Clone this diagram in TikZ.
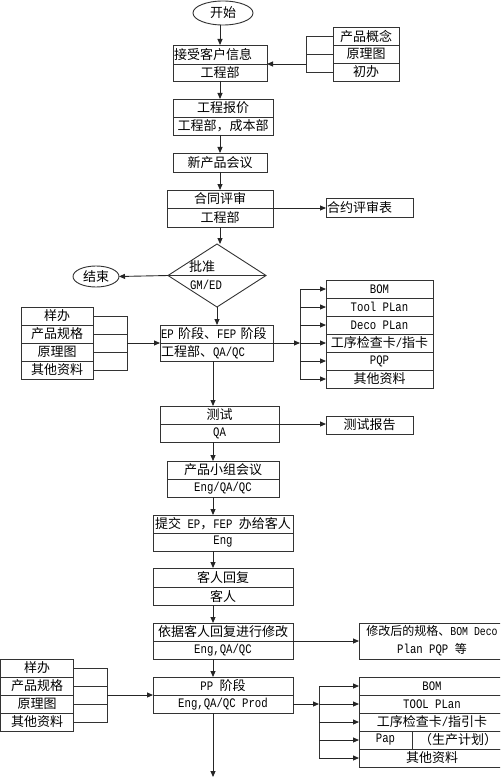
\documentclass[tikz,border=0pt]{standalone}
\usepackage{fontspec}
\setmainfont{Noto Sans CJK SC}
\newfontfamily\monof[FakeStretch=0.82]{Liberation Mono}
\newcommand{\mtx}[1]{{\monof\fontsize{13}{15}\selectfont #1}}
\newcommand{\mts}[1]{{\monof\fontsize{12}{15}\selectfont #1}}
\usetikzlibrary{shapes.geometric,arrows.meta}
\begin{document}
\begin{tikzpicture}[x=1pt,y=-1pt,
  cell/.style={draw=black!80, line width=0.9pt, inner sep=0pt, outer sep=0pt, font=\fontsize{13}{15}\selectfont, align=center},
  lcell/.style={cell, align=left, inner xsep=1pt},
  arr/.style={draw=black!85, line width=0.9pt, -{Triangle[length=6pt,width=5pt]}},
  ln/.style={draw=black!80, line width=0.8pt},
  lbl/.style={inner sep=0pt, font=\fontsize{13}{15}\selectfont}]
\useasboundingbox (0,0) rectangle (500,778);
\clip (0,0) rectangle (500,778);
\fill[white] (0,0) rectangle (500,778);

% start
\node[cell, ellipse, minimum width=60, minimum height=24] (start) at (223,13) {开始};
\node[lcell, minimum width=94, minimum height=19, text width=92] (b1t) at (220,54.5) {接受客户信息};
\node[cell, minimum width=94, minimum height=17] (b1b) at (220,72.5) {工程部};
\draw[arr] (b1t.north |- start.south) -- (b1t.north);

% right list 1
\node[cell, minimum width=66, minimum height=18] (r1a) at (366,36) {产品概念};
\node[cell, minimum width=66, minimum height=18] (r1b) at (366,54) {原理图};
\node[cell, minimum width=66, minimum height=18] (r1c) at (366,72) {初办};
\coordinate (k1) at (306,54);
\draw[ln] (r1a.west) -- (r1a.west -| k1) -- (r1c.west -| k1) -- (r1c.west);
\draw[ln] (r1b.west) -- (k1);
\draw[arr] (k1 |- b1t.south east) -- (b1t.south east);

% box2
\node[cell, minimum width=100, minimum height=18] (b2t) at (223,108) {工程报价};
\node[cell, minimum width=100, minimum height=18] (b2b) at (223,126) {工程部，成本部};
\draw[arr] (b1b.south) -- (b1b.south |- b2t.north);

% box3
\node[cell, minimum width=94, minimum height=19] (b3) at (220,162.5) {新产品会议};
\draw[arr] (b1b.south |- b2b.south) -- (b1b.south |- b3.north);

% box4
\node[cell, minimum width=106, minimum height=18] (b4t) at (220,199) {合同评审};
\node[cell, minimum width=106, minimum height=19] (b4b) at (220,217.5) {工程部};
\draw[arr] (b3.south) -- (b3.south |- b4t.north);
\node[lcell, minimum width=87, minimum height=19, text width=85] (hy) at (369.5,207.5) {合约评审表};
\draw[arr] (b4t.south east) -- (b4t.south east -| hy.west);

% diamond
\node[draw=black!80, line width=0.9pt, diamond, minimum width=98, minimum height=63, inner sep=0pt, outer sep=0pt] (dia) at (217,275.5) {};
\draw[ln] (dia.west) -- (dia.east);
\node[lbl] (dt1) at (202,267) {批准};
\node[lbl] (dt2) at (206,285) {\mtx{GM/ED}};
\draw[arr] (b4b.south) -- (b4b.south |- dia.north);
\node[cell, ellipse, minimum width=46, minimum height=21] (endn) at (96,276.5) {结束};
\draw[arr] (dia.west) -- (endn.east);

% EP box
\node[lcell, minimum width=113, minimum height=18, text width=111] (ep1) at (216.5,334) {\mtx{EP }阶段、\mtx{FEP }阶段};
\node[lcell, minimum width=113, minimum height=18, text width=111] (ep2) at (216.5,352) {工程部、\mtx{QA/QC}};
\draw[arr] (dia.south) -- (dia.south |- ep1.north);

% left list 1
\node[cell, minimum width=72, minimum height=18] (l1a) at (57,316) {样办};
\node[cell, minimum width=72, minimum height=18] (l1b) at (57,334) {产品规格};
\node[cell, minimum width=72, minimum height=18] (l1c) at (57,352) {原理图};
\node[cell, minimum width=72, minimum height=18] (l1d) at (57,370) {其他资料};
\coordinate (k2) at (127,343);
\draw[ln] (l1a.east) -- (l1a.east -| k2) -- (l1d.east -| k2) -- (l1d.east);
\draw[ln] (l1b.east) -- (l1b.east -| k2);
\draw[ln] (l1c.east) -- (l1c.east -| k2);
\draw[arr] (k2 |- ep1.south west) -- (ep1.south west);

% right list 2
\node[cell, minimum width=107, minimum height=18] (r2a) at (379.5,289) {\mtx{BOM}};
\node[cell, minimum width=107, minimum height=18] (r2b) at (379.5,307) {\mtx{Tool PLan}};
\node[cell, minimum width=107, minimum height=18] (r2c) at (379.5,325) {\mtx{Deco PLan}};
\node[cell, minimum width=107, minimum height=18] (r2d) at (379.5,343) {工序检查卡\mtx{/}指卡};
\node[cell, minimum width=107, minimum height=18] (r2e) at (379.5,361) {\mtx{PQP}};
\node[cell, minimum width=107, minimum height=18] (r2f) at (379.5,379) {其他资料};
\coordinate (k3) at (300,343);
\draw[arr] (ep1.south east) -- (k3);
\draw[ln] (k3 |- r2a.west) -- (k3 |- r2f.west);
\foreach \n in {r2a,r2b,r2c,r2d,r2e,r2f} \draw[arr] (k3 |- \n.west) -- (\n.west);

% column coordinate
\coordinate (col) at (213,0);

% test
\node[cell, minimum width=119, minimum height=18] (t1) at (219.5,415) {测试};
\node[cell, minimum width=119, minimum height=18] (t2) at (219.5,433) {\mtx{QA}};
\draw[arr] (col |- ep2.south) -- (col |- t1.north);
\node[cell, minimum width=87, minimum height=18] (rep) at (369.5,425) {测试报告};
\draw[arr] (t1.south east) -- (t1.south east -| rep.west);

% product team meeting
\node[cell, minimum width=112, minimum height=18] (pm1) at (223,470) {产品小组会议};
\node[cell, minimum width=112, minimum height=18] (pm2) at (223,488) {\mtx{Eng/QA/QC}};
\draw[arr] (col |- t2.south) -- (col |- pm1.north);

% submit
\node[cell, minimum width=140, minimum height=18] (s1) at (223,524) {提交\mtx{ EP}，\mtx{FEP }办给客人};
\node[cell, minimum width=140, minimum height=18] (s2) at (223,542) {\mtx{Eng}};
\draw[arr] (col |- pm2.south) -- (col |- s1.north);

% customer reply
\node[cell, minimum width=140, minimum height=19] (c1) at (223,577.5) {客人回复};
\node[cell, minimum width=140, minimum height=18] (c2) at (223,596) {客人};
\draw[arr] (col |- s2.south) -- (col |- c1.north);

% modify
\node[cell, minimum width=140, minimum height=18] (m1) at (223,632) {依据客人回复进行修改};
\node[cell, minimum width=140, minimum height=18] (m2) at (223,650) {\mtx{Eng,QA/QC}};
\draw[arr] (col |- c2.south) -- (col |- m1.north);
\node[cell, minimum width=146, minimum height=36, font=\fontsize{12}{18}\selectfont] (mod) at (432,641) {修改后的规格、\mts{BOM Deco}\\\mtx{Plan PQP }等};
\draw[arr] (m1.south east) -- (m1.south east -| mod.west);

% PP stage
\node[cell, minimum width=140, minimum height=18] (pp1) at (223,686) {\mtx{PP }阶段};
\node[cell, minimum width=140, minimum height=18] (pp2) at (223,704) {\mtx{Eng,QA/QC Prod}};
\draw[arr] (col |- m2.south) -- (col |- pp1.north);

% left list 2
\node[cell, minimum width=73, minimum height=18] (l2a) at (37,668) {样办};
\node[cell, minimum width=73, minimum height=18] (l2b) at (37,686) {产品规格};
\node[cell, minimum width=73, minimum height=18] (l2c) at (37,704) {原理图};
\node[cell, minimum width=73, minimum height=18] (l2d) at (37,722) {其他资料};
\coordinate (k4) at (107,695);
\draw[ln] (l2a.east) -- (l2a.east -| k4) -- (l2d.east -| k4) -- (l2d.east);
\draw[ln] (l2b.east) -- (l2b.east -| k4);
\draw[ln] (l2c.east) -- (l2c.east -| k4);
\draw[arr] (k4 |- pp1.south west) -- (pp1.south west);

% right list 3
\node[cell, minimum width=146, minimum height=18] (r3a) at (432,686) {\mtx{BOM}};
\node[cell, minimum width=146, minimum height=18] (r3b) at (432,704) {\mtx{TOOL PLan}};
\node[cell, minimum width=146, minimum height=18] (r3c) at (432,722) {工序检查卡\mtx{/}指引卡};
\node[cell, minimum width=53, minimum height=18] (pap) at (385.5,740) {\mtx{Pap}};
\node[lcell, minimum width=93, minimum height=18, text width=79, inner xsep=7pt] (plan) at (458.5,740) {（生产计划）};
\node[cell, minimum width=146, minimum height=18] (r3e) at (432,758) {其他资料};
\coordinate (k5) at (319,704);
\draw[arr] (pp2.east) -- (k5);
\draw[ln] (k5 |- r3a.west) -- (k5 |- r3e.west);
\foreach \n in {r3a,r3b,r3c,pap,r3e} \draw[arr] (k5 |- \n.west) -- (\n.west);

% bottom
\coordinate (bot) at (213,777);
\draw[arr] (col |- pp2.south) -- (bot);
\end{tikzpicture}
\end{document}
